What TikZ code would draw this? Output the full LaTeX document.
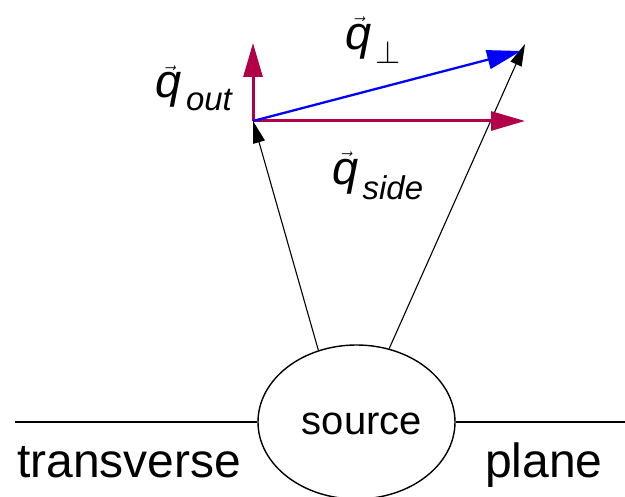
\documentclass[tikz,border=0pt]{standalone}
\usepackage{amsmath}
\usepackage{fontspec}
\setmainfont{Liberation Sans}
\usepackage{tikz}
\usetikzlibrary{arrows.meta, shapes.geometric, positioning}
\definecolor{qred}{RGB}{178,0,72}
\definecolor{qblue}{RGB}{0,0,255}

\begin{document}
\begin{tikzpicture}[
    x=1pt, y=-1pt,
    big/.style={font=\fontsize{48}{50}\selectfont, inner sep=0pt},
    qlabel/.style={font=\fontsize{47}{50}\selectfont, inner sep=0pt},
    component/.style={-{Triangle[length=34pt,width=19pt]}, line width=3pt, qred},
    total/.style={-{Triangle[length=34pt,width=19pt]}, line width=2.3pt, qblue},
    beam/.style={-{Triangle[length=22pt,width=12pt]}, line width=1.1pt, black}
]
    \useasboundingbox (0,0) rectangle (625,497);
    % source and transverse plane
    \node [ellipse, draw, line width=1.4pt, minimum width=197pt, minimum height=154pt, inner sep=0pt] (src) at (356.5,422) {};
    \node [font=\fontsize{40}{44}\selectfont, inner sep=0pt, anchor=base] (srclabel) at (362,435) {source};
    \coordinate (planeL) at (15,422);
    \coordinate (planeR) at (625,422);
    \draw [line width=1.4pt] (planeL) -- (src.west);
    \draw [line width=1.4pt] (src.east) -- (planeR);
    \node [big, anchor=base west] (transverse) at (17,478) {transverse};
    \node [big, anchor=base west] (plane) at (485,478) {plane};
    % momentum vectors
    \coordinate (O) at (253,121);
    \coordinate (outtip) at (253,43);
    \coordinate (sidetip) at (525,121);
    \coordinate (perptip) at (521,51);
    \coordinate (righttip) at (525,44);
    \draw [beam] (src.118) -- (O);
    \draw [beam] (src.66) -- (righttip);
    \draw [component] (O) -- (outtip);
    \draw [component] (O) -- (sidetip);
    \draw [total] (O) -- (perptip);
    \node [qlabel] (qout) at (194,88) {$\vec{\textit{q}}_{\,\textit{out}}$};
    \node [qlabel] (qperp) at (373,40) {$\vec{\textit{q}}_{\,\scalebox{1.3}{$\scriptstyle\perp$}}$};
    \node [qlabel] (qside) at (378,176) {$\vec{\textit{q}}_{\,\textit{side}}$};
\end{tikzpicture}
\end{document}
